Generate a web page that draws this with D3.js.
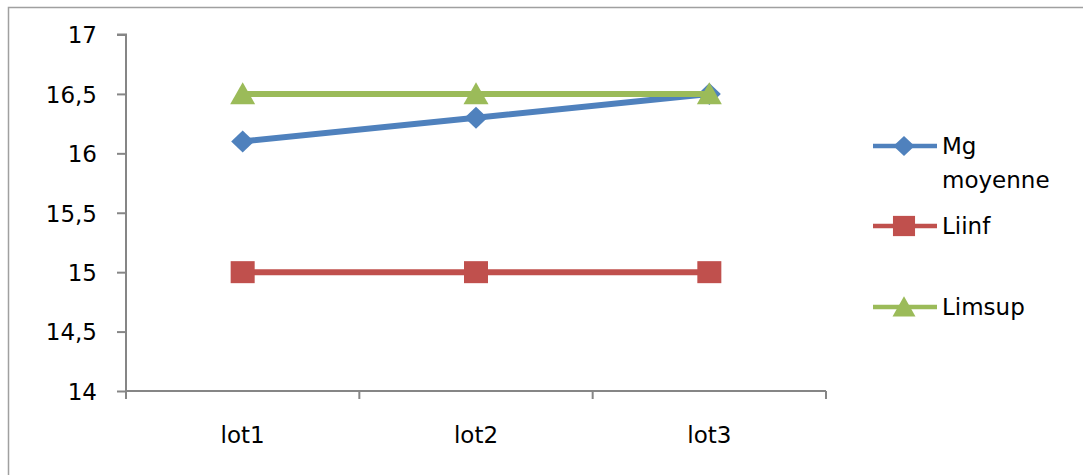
<!DOCTYPE html>
<html>
<head>
<meta charset="utf-8">
<script src="https://cdn.jsdelivr.net/npm/d3@7"></script>
<style>
  html, body { margin: 0; padding: 0; background: #fff; }
  svg { display: block; font-family: "DejaVu Sans", sans-serif; }
</style>
</head>
<body>
<svg id="chart" width="1083" height="475"></svg>
<script>
// Lots and measured values
const categories = ["lot1", "lot2", "lot3"];
const mgMoyenne = [16.1, 16.3, 16.5];
const liinf = [15, 15, 15];
const limsup = [16.5, 16.5, 16.5];
const yTicks = [14, 14.5, 15, 15.5, 16, 16.5, 17];
const seriesNames = ["Mg moyenne", "Liinf", "Limsup"];

const series = [
  { name: seriesNames[0], values: mgMoyenne, color: "#4F81BD", symbol: "diamond" },
  { name: seriesNames[1], values: liinf, color: "#C0504D", symbol: "square" },
  { name: seriesNames[2], values: limsup, color: "#9BBB59", symbol: "triangle" }
];

const svg = d3.select("#chart");
const axisColor = "#868686";
const fontSize = "23px";

// Outer chart frame
svg.append("rect")
  .attr("x", 8.5).attr("y", 7.5)
  .attr("width", 1100).attr("height", 500)
  .attr("fill", "none").attr("stroke", "#a0a0a0").attr("stroke-width", 1.5);

const plot = { left: 126, right: 826, top: 34.5, bottom: 391 };

const x = d3.scaleBand().domain(categories).range([plot.left, plot.right]);
const y = d3.scaleLinear().domain([14, 17]).range([plot.bottom, plot.top]);

const fmt = d => String(d).replace(".", ",");

// Y axis
const yAxis = svg.append("g")
  .attr("transform", `translate(${plot.left},0)`)
  .call(d3.axisLeft(y).tickValues(yTicks).tickFormat(fmt).tickSize(9).tickPadding(20));
yAxis.select(".domain").attr("stroke", axisColor).attr("stroke-width", 2)
  .attr("d", `M-9,${plot.top}H0V${plot.bottom}`);
yAxis.selectAll(".tick line").attr("stroke", axisColor).attr("stroke-width", 2);
yAxis.selectAll(".tick text").attr("fill", "#000")
  .style("font-family", "'DejaVu Sans', sans-serif").style("font-size", fontSize)
  .attr("dy", "0.36em");

// X axis with tick marks between categories
const xAxis = svg.append("g")
  .attr("transform", `translate(0,${plot.bottom})`);
xAxis.append("path")
  .attr("d", `M${plot.left},0H${plot.right}`)
  .attr("stroke", axisColor).attr("stroke-width", 2).attr("fill", "none");
const boundaries = categories.map(c => x(c)).concat([x(categories[categories.length - 1]) + x.bandwidth()]);
xAxis.selectAll("line.tick")
  .data(boundaries).join("line")
  .attr("x1", d => d).attr("x2", d => d)
  .attr("y1", 0).attr("y2", 8)
  .attr("stroke", axisColor).attr("stroke-width", 2);
xAxis.selectAll("text")
  .data(categories).join("text")
  .attr("x", d => x(d) + x.bandwidth() / 2)
  .attr("y", 52)
  .attr("text-anchor", "middle")
  .style("font-size", fontSize)
  .text(d => d);

const cx = c => x(c) + x.bandwidth() / 2;

function drawMarker(g, symbol, color, px, py, scale = 1) {
  if (symbol === "diamond") {
    const w = 11.5 * scale, h = 11 * scale;
    g.append("path").attr("d", `M${px},${py - h}L${px + w},${py}L${px},${py + h}L${px - w},${py}Z`)
      .attr("fill", color);
  } else if (symbol === "square") {
    const w = 12 * scale, h = 11 * scale;
    g.append("rect").attr("x", px - w).attr("y", py - h).attr("width", 2 * w).attr("height", 2 * h)
      .attr("fill", color);
  } else {
    const w = 12.5 * scale, h = 11 * scale;
    g.append("path").attr("d", `M${px},${py - h * 1.05}L${px + w},${py + h * 0.95}L${px - w},${py + h * 0.95}Z`)
      .attr("fill", color);
  }
}

const line = d3.line().x((d, i) => cx(categories[i])).y(d => y(d));

// Draw series: lines then markers, in series order
series.forEach(s => {
  const g = svg.append("g");
  g.append("path").datum(s.values)
    .attr("d", line)
    .attr("fill", "none").attr("stroke", s.color).attr("stroke-width", 6);
  s.values.forEach((v, i) => drawMarker(g, s.symbol, s.color, cx(categories[i]), y(v)));
});

// Legend
const legendItems = [
  { s: series[0], y: 146, lines: ["Mg", "moyenne"] },
  { s: series[1], y: 226, lines: ["Liinf"] },
  { s: series[2], y: 307, lines: ["Limsup"] }
];
legendItems.forEach(item => {
  const g = svg.append("g");
  g.append("line").attr("x1", 873).attr("x2", 937).attr("y1", item.y).attr("y2", item.y)
    .attr("stroke", item.s.color).attr("stroke-width", 4.5);
  drawMarker(g, item.s.symbol, item.s.color, 904, item.y, 0.92);
  item.lines.forEach((t, k) => {
    g.append("text").attr("x", 942).attr("y", item.y + k * 34).attr("dy", "0.36em")
      .style("font-size", fontSize).text(t);
  });
});
</script>
</body>
</html>
